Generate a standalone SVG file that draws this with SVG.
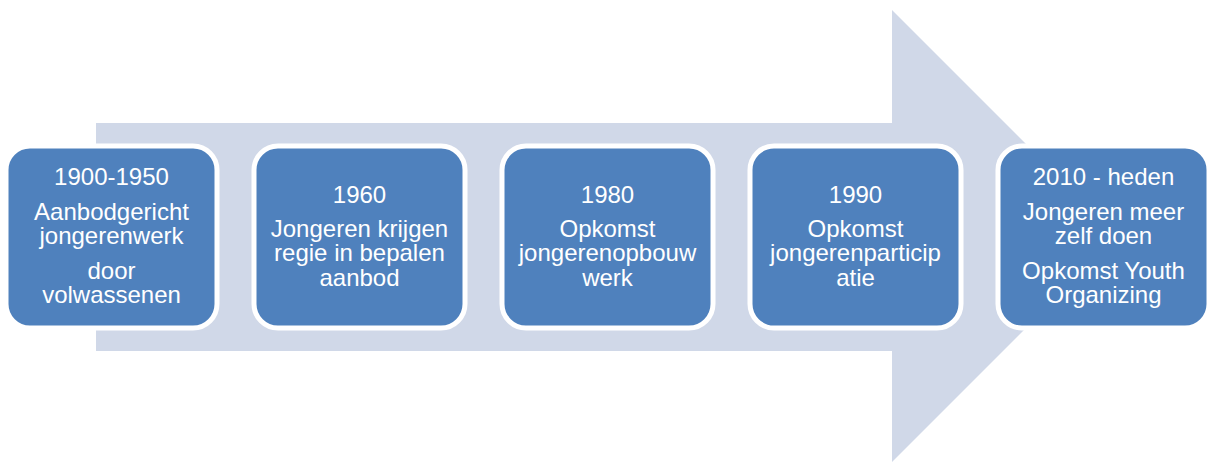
<svg xmlns="http://www.w3.org/2000/svg" width="1212" height="462" viewBox="0 0 1212 462">
<style>
.box{fill:#4F81BD;stroke:#FFFFFF;stroke-width:5}
.t{font-family:"Liberation Sans",Arial,sans-serif;font-size:24px;fill:#FFFFFF;text-anchor:middle}
</style>
<rect width="1212" height="462" fill="#FFFFFF"/>
<g id="connectors">
<polygon id="arrow" points="96,123 892,123 892,10 1118,236 892,462 892,351 96,351" fill="#D0D8E8"/>
</g>
<g id="node1">
<rect class="box" x="6" y="146" width="211" height="182" rx="24"/>
<text class="t" x="111.5" y="185">1900-1950</text>
<text class="t" x="111.5" y="219.5">Aanbodgericht</text>
<text class="t" x="111.5" y="243.5">jongerenwerk</text>
<text class="t" x="111.5" y="278.5">door</text>
<text class="t" x="111.5" y="303">volwassenen</text>
</g>
<g id="node2">
<rect class="box" x="254" y="146" width="211" height="182" rx="24"/>
<text class="t" x="359.5" y="202.5">1960</text>
<text class="t" x="359.5" y="236.5">Jongeren krijgen</text>
<text class="t" x="359.5" y="261">regie in bepalen</text>
<text class="t" x="359.5" y="285.5">aanbod</text>
</g>
<g id="node3">
<rect class="box" x="502" y="146" width="211" height="182" rx="24"/>
<text class="t" x="607.5" y="202.5">1980</text>
<text class="t" x="607.5" y="236.5">Opkomst</text>
<text class="t" x="607.5" y="261">jongerenopbouw</text>
<text class="t" x="607.5" y="285.5">werk</text>
</g>
<g id="node4">
<rect class="box" x="750" y="146" width="211" height="182" rx="24"/>
<text class="t" x="855.5" y="202.5">1990</text>
<text class="t" x="855.5" y="236.5">Opkomst</text>
<text class="t" x="855.5" y="261">jongerenparticip</text>
<text class="t" x="855.5" y="285.5">atie</text>
</g>
<g id="node5">
<rect class="box" x="998" y="146" width="211" height="182" rx="24"/>
<text class="t" x="1103.5" y="185">2010 - heden</text>
<text class="t" x="1103.5" y="219.5">Jongeren meer</text>
<text class="t" x="1103.5" y="244">zelf doen</text>
<text class="t" x="1103.5" y="278.5">Opkomst Youth</text>
<text class="t" x="1103.5" y="303">Organizing</text>
</g>
</svg>
